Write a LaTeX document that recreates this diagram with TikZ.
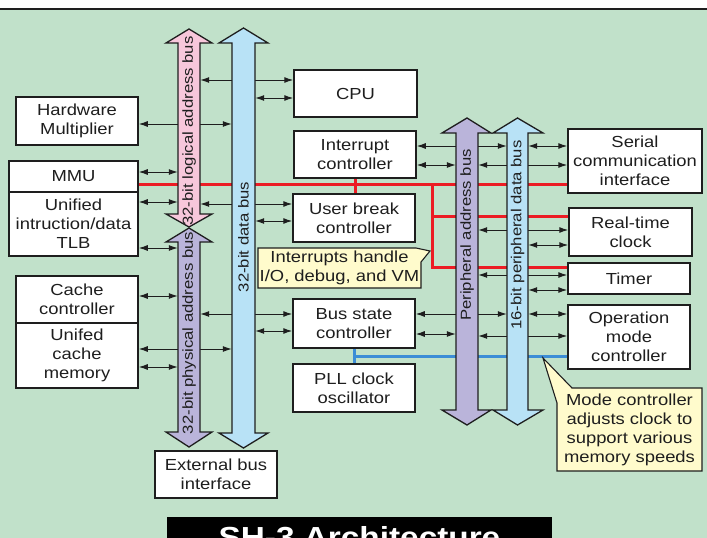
\documentclass[tikz,border=0pt]{standalone}
\usepackage{fontspec}
\setmainfont{Liberation Sans}[FakeStretch=1.15]
\usetikzlibrary{arrows.meta,calc}

\definecolor{panel}{RGB}{193,225,202}
\definecolor{pinkbus}{RGB}{247,199,219}
\definecolor{violetbus}{RGB}{186,180,218}
\definecolor{cyanbus}{RGB}{184,226,246}
\definecolor{notefill}{RGB}{255,251,204}
\definecolor{irqred}{RGB}{236,28,36}
\definecolor{clkblue}{RGB}{60,141,214}
\definecolor{ink}{RGB}{30,30,30}

\tikzset{
  block/.style={draw=ink,fill=white,line width=1.5pt,inner sep=0pt,align=center,text=ink,font=\fontsize{16}{19}\selectfont},
  shaft/.style={draw=none,inner sep=0pt},
  bus/.style={draw=ink,line width=1.3pt,line join=miter},
  buslabel/.style={text=ink,inner sep=0pt,font=\fontsize{14.5}{16}\selectfont},
  bi/.style={{Latex[length=9pt,width=6pt]}-{Latex[length=9pt,width=6pt]},line width=1pt,draw=ink},
  irqline/.style={draw=irqred,line width=3pt},
  clkline/.style={draw=clkblue,line width=3pt},
  note/.style={draw=ink,fill=notefill,line width=1.1pt,line join=miter},
  notetext/.style={align=center,text=ink,inner sep=0pt,font=\fontsize{16}{19}\selectfont},
  title/.style={fill=black,text=white,inner sep=0pt,minimum width=385pt,minimum height=41pt,font=\bfseries\fontsize{29}{29}\selectfont}
}

\begin{document}
\begin{tikzpicture}[x=1pt,y=-1pt]
\useasboundingbox (0,0) rectangle (707,538);
\fill[white] (0,0) rectangle (707,9);
\fill[panel] (0,9) rectangle (707,538);
\draw[ink,line width=1.2pt] (0,9)--(707,9);

\node[shaft,minimum width=22pt,minimum height=198pt] (lbus) at (189,128) {};
\node[shaft,minimum width=22pt,minimum height=219pt] (pbus) at (189,337.5) {};
\node[shaft,minimum width=23pt,minimum height=420pt] (dbus) at (243.5,238) {};
\node[shaft,minimum width=22pt,minimum height=307pt] (pabus) at (467,271.5) {};
\node[shaft,minimum width=21pt,minimum height=307pt] (pdbus) at (517.5,271.5) {};

\node[block,minimum width=122pt,minimum height=48pt] (hwm) at (77,121) {Hardware\\Multiplier};
\node[block,minimum width=129pt,minimum height=31pt] (mmu) at (73.5,176.5) {MMU};
\node[block,minimum width=129pt,minimum height=64pt] (tlb) at (73.5,224) {Unified\\intruction/data\\TLB};
\node[block,minimum width=122pt,minimum height=47pt] (cc) at (77,299.5) {Cache\\controller};
\node[block,minimum width=122pt,minimum height=65pt] (ucm) at (77,355.5) {Unifed\\cache\\memory};
\node[block,minimum width=122pt,minimum height=47pt] (ebi) at (216,474.5) {External bus\\interface};
\node[block,minimum width=123pt,minimum height=47pt] (cpu) at (355.5,93.5) {CPU};
\node[block,minimum width=122pt,minimum height=47pt] (intc) at (355,154.5) {Interrupt\\controller};
\node[block,minimum width=122pt,minimum height=48pt] (ubc) at (354,218) {User break\\controller};
\node[block,minimum width=122pt,minimum height=49pt] (bsc) at (354,323.5) {Bus state\\controller};
\node[block,minimum width=122pt,minimum height=48pt] (pll) at (354,388) {PLL clock\\oscillator};
\node[block,minimum width=134pt,minimum height=64pt] (sci) at (635,161) {Serial\\communication\\interface};
\node[block,minimum width=123pt,minimum height=48pt] (rtc) at (630.5,232) {Real-time\\clock};
\node[block,minimum width=122pt,minimum height=31pt] (tmr) at (629,278.5) {Timer};
\node[block,minimum width=122pt,minimum height=64pt] (omc) at (629,337) {Operation\\mode\\controller};

\coordinate (irqtap) at (432,184);
\draw[irqline] ([yshift=-7.5pt]mmu.east) -- ([yshift=-7.5pt]mmu.east -| sci.west);
\draw[irqline] (intc.south) -- (intc.south |- ubc.north);
\draw[irqline] ([yshift=16pt]rtc.west) -| (irqtap);
\draw[irqline] ([yshift=11.5pt]tmr.west) -| (irqtap);
\coordinate (clktap) at ($(bsc.south)!0.5!(pll.north)$);
\draw[clkline] (bsc.south) -- (bsc.south |- pll.north);
\draw[clkline] (clktap) -- (clktap -| omc.west);

\draw[bi] ([yshift=-3pt]hwm.east) -- ([yshift=-3pt]hwm.east -| dbus.west);
\draw[bi] ([yshift=4.5pt]mmu.east) -- ([yshift=4.5pt]mmu.east -| lbus.west);
\draw[bi] ([yshift=22pt]tlb.east) -- ([yshift=22pt]tlb.east -| lbus.west);
\draw[bi] ([yshift=-24pt]tlb.east) -- ([yshift=-24pt]tlb.east -| pbus.west);
\draw[bi] ([yshift=3.5pt]cc.east) -- ([yshift=3.5pt]cc.east -| pbus.west);
\draw[bi] ([yshift=6.5pt]ucm.east) -- ([yshift=6.5pt]ucm.east -| dbus.west);
\draw[bi] ([yshift=-11.5pt]ucm.east) -- ([yshift=-11.5pt]ucm.east -| pbus.west);
\draw[bi] ([yshift=13.5pt]cpu.west) -- ([yshift=13.5pt]cpu.west -| lbus.east);
\draw[bi] ([yshift=-4.5pt]cpu.west) -- ([yshift=-4.5pt]cpu.west -| dbus.east);
\draw[bi] ([yshift=14pt]ubc.west) -- ([yshift=14pt]ubc.west -| lbus.east);
\draw[bi] ([yshift=-3pt]ubc.west) -- ([yshift=-3pt]ubc.west -| dbus.east);
\draw[bi] ([yshift=9.5pt]bsc.west) -- ([yshift=9.5pt]bsc.west -| pbus.east);
\draw[bi] ([yshift=-7.5pt]bsc.west) -- ([yshift=-7.5pt]bsc.west -| dbus.east);
\draw[bi] ([yshift=8.5pt]intc.east) -- ([yshift=8.5pt]intc.east -| pdbus.west);
\draw[bi] ([yshift=-10.5pt]intc.east) -- ([yshift=-10.5pt]intc.east -| pabus.west);
\draw[bi] ([yshift=9.5pt]bsc.east) -- ([yshift=9.5pt]bsc.east -| pdbus.west);
\draw[bi] ([yshift=-10.5pt]bsc.east) -- ([yshift=-10.5pt]bsc.east -| pabus.west);
\draw[bi] ([yshift=15pt]sci.west) -- ([yshift=15pt]sci.west -| pdbus.east);
\draw[bi] ([yshift=-4pt]sci.west) -- ([yshift=-4pt]sci.west -| pabus.east);
\draw[bi] ([yshift=2pt]rtc.west) -- ([yshift=2pt]rtc.west -| pabus.east);
\draw[bi] ([yshift=-13pt]rtc.west) -- ([yshift=-13pt]rtc.west -| pdbus.east);
\draw[bi] ([yshift=3.5pt]tmr.west) -- ([yshift=3.5pt]tmr.west -| pabus.east);
\draw[bi] ([yshift=-11.5pt]tmr.west) -- ([yshift=-11.5pt]tmr.west -| pdbus.east);
\draw[bi] ([yshift=23pt]omc.west) -- ([yshift=23pt]omc.west -| pdbus.east);
\draw[bi] ([yshift=1pt]omc.west) -- ([yshift=1pt]omc.west -| pabus.east);

\draw[bus,fill=pinkbus] (178,214) -- (178,43) -- (166,43) -- (189,29) -- (212,43) -- (200,43) -- (200,214) -- (212,214) -- (189,227) -- (166,214) -- cycle;
\draw[bus,fill=violetbus] (178,432) -- (178,242) -- (166,242) -- (189,228) -- (212,242) -- (200,242) -- (200,432) -- (212,432) -- (189,447) -- (166,432) -- cycle;
\draw[bus,fill=cyanbus] (232,433) -- (232,43) -- (219,43) -- (243.5,28) -- (268,43) -- (255,43) -- (255,433) -- (268,433) -- (243.5,448) -- (219,433) -- cycle;
\draw[bus,fill=violetbus] (456,410) -- (456,133) -- (442,133) -- (467,118) -- (491,133) -- (478,133) -- (478,410) -- (491,410) -- (467,425) -- (442,410) -- cycle;
\draw[bus,fill=cyanbus] (507,410) -- (507,133) -- (493,133) -- (517.5,118) -- (543,133) -- (528,133) -- (528,410) -- (543,410) -- (517.5,425) -- (493,410) -- cycle;

\node[buslabel,rotate=90] (lbustext) at (189,131) {32-bit logical address bus};
\node[buslabel,rotate=90] (pbustext) at (189,333) {32-bit physical address bus};
\node[buslabel,rotate=90] (dbustext) at (243.5,237) {32-bit data bus};
\node[buslabel,rotate=90] (pabustext) at (467,235) {Peripheral address bus};
\node[buslabel,rotate=90] (pdbustext) at (517.5,235) {16-bit peripheral data bus};

\draw[note] (258,248) -- (416,248) -- (430,251) -- (421,262) -- (421,288) -- (258,288) -- cycle;
\node[notetext] (irqnote) at (339.5,268) {Interrupts handle\\I/O, debug, and VM};
\draw[note] (557,403) -- (543,358) -- (572,388) -- (702,388) -- (702,471) -- (557,471) -- cycle;
\node[notetext] (clknote) at (629.5,430) {Mode controller\\adjusts clock to\\support various\\memory speeds};

\node[title] (archtitle) at (359.5,537.5) {SH-3 Architecture};
\end{tikzpicture}
\end{document}
